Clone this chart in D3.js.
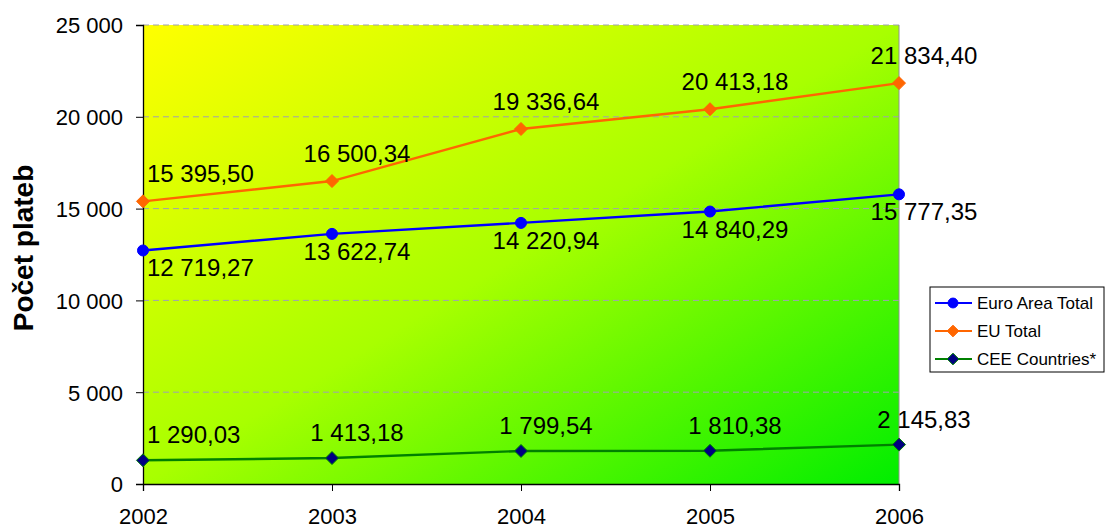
<!DOCTYPE html>
<html>
<head>
<meta charset="utf-8">
<script src="https://cdn.jsdelivr.net/npm/d3@7"></script>
<style>
  body { margin: 0; background: #fff; }
  text { font-family: "Liberation Sans", Arial, sans-serif; fill: #000; }
</style>
</head>
<body>
<svg id="chart" width="1106" height="529"></svg>
<script>
var years = ['2002', '2003', '2004', '2005', '2006'];
var euroArea = [12719.27, 13622.74, 14220.94, 14840.29, 15777.35];
var euTotal = [15395.50, 16500.34, 19336.64, 20413.18, 21834.40];
var ceeCountries = [1290.03, 1413.18, 1799.54, 1810.38, 2145.83];
var yTicks = [0, 5000, 10000, 15000, 20000, 25000];

var series = [
    { name: 'Euro Area Total', values: euroArea, line: '#0000ff', fill: '#0000ff', stroke: '#0000ff', marker: 'circle', labelDy: 26 },
    { name: 'EU Total', values: euTotal, line: '#ff6600', fill: '#ff6600', stroke: '#ff6600', marker: 'diamond', labelDy: -19 },
    { name: 'CEE Countries*', values: ceeCountries, line: '#008000', fill: '#000080', stroke: '#008000', marker: 'diamond', labelDy: -17 }
];

var svg = d3.select('#chart');
var plot = { left: 143, right: 899, top: 25, bottom: 484 };

var x = d3.scalePoint().domain(years).range([plot.left, plot.right]);
var y = d3.scaleLinear().domain([0, 25000]).range([plot.bottom, plot.top]);

function fmt(v, dec) {
    var s = v.toFixed(dec).split('.');
    var intPart = s[0].replace(/\B(?=(\d{3})+(?!\d))/g, ' ');
    return dec ? intPart + ',' + s[1] : intPart;
}

// background gradient
var defs = svg.append('defs');
var grad = defs.append('linearGradient')
    .attr('id', 'bg')
    .attr('x1', '0%').attr('y1', '0%')
    .attr('x2', '100%').attr('y2', '100%');
grad.append('stop').attr('offset', '0%').attr('stop-color', '#ffff00');
grad.append('stop').attr('offset', '50%').attr('stop-color', '#a8ff00');
grad.append('stop').attr('offset', '100%').attr('stop-color', '#00ee00');

svg.append('rect')
    .attr('x', plot.left).attr('y', plot.top)
    .attr('width', plot.right - plot.left)
    .attr('height', plot.bottom - plot.top)
    .attr('fill', 'url(#bg)');

// grid lines
svg.append('g').selectAll('line')
    .data(yTicks.filter(function (d) { return d > 0; }))
    .enter().append('line')
    .attr('x1', plot.left).attr('x2', plot.right)
    .attr('y1', function (d) { return y(d); })
    .attr('y2', function (d) { return y(d); })
    .attr('stroke', '#a0a0b0')
    .attr('stroke-width', 1)
    .attr('stroke-dasharray', '6,4');

// right border
svg.append('line')
    .attr('x1', plot.right).attr('x2', plot.right)
    .attr('y1', plot.top).attr('y2', plot.bottom)
    .attr('stroke', '#909090');

// axes
var yAxis = svg.append('g')
    .attr('transform', 'translate(' + plot.left + ',0)')
    .call(d3.axisLeft(y).tickValues(yTicks).tickSize(7).tickPadding(13)
        .tickFormat(function (d) { return fmt(d, 0); }));
var xAxis = svg.append('g')
    .attr('transform', 'translate(0,' + plot.bottom + ')')
    .call(d3.axisBottom(x).tickSize(7).tickPadding(17));

[yAxis, xAxis].forEach(function (g) {
    g.select('.domain').attr('stroke', '#000').attr('stroke-width', 1.3);
    g.selectAll('.tick line').attr('stroke', '#000');
    g.selectAll('.tick text')
        .style('font-family', '"Liberation Sans", Arial, sans-serif')
        .style('font-size', '22px')
        .attr('fill', '#000');
});
yAxis.selectAll('.tick text').attr('dy', '0.36em');

// y axis title
svg.append('text')
    .attr('transform', 'translate(33,248) rotate(-90)')
    .attr('text-anchor', 'middle')
    .style('font-size', '28px')
    .style('font-weight', 'bold')
    .text('Počet plateb');

function drawMarker(g, s, cx, cy, scale) {
    scale = scale || 1;
    if (s.marker === 'circle') {
        g.append('circle')
            .attr('cx', cx).attr('cy', cy).attr('r', 5.5 * scale)
            .attr('fill', s.fill).attr('stroke', s.stroke);
    } else {
        var r = 6.5 * scale;
        g.append('path')
            .attr('d', 'M' + cx + ',' + (cy - r) + 'L' + (cx + r) + ',' + cy +
                'L' + cx + ',' + (cy + r) + 'L' + (cx - r) + ',' + cy + 'Z')
            .attr('fill', s.fill).attr('stroke', s.stroke).attr('stroke-width', 1);
    }
}

var line = d3.line()
    .x(function (d, i) { return x(years[i]); })
    .y(function (d) { return y(d); });

series.forEach(function (s) {
    var g = svg.append('g');
    g.append('path')
        .datum(s.values)
        .attr('d', line)
        .attr('fill', 'none')
        .attr('stroke', s.line)
        .attr('stroke-width', 2.4);
    s.values.forEach(function (v, i) {
        drawMarker(g, s, x(years[i]), y(v));
    });
    g.selectAll('text.lbl')
        .data(s.values)
        .enter().append('text')
        .attr('class', 'lbl')
        .attr('x', function (d, i) {
            return i === 0 ? plot.left + 4 : x(years[i]) + 25;
        })
        .attr('y', function (d) { return y(d) + s.labelDy; })
        .attr('text-anchor', function (d, i) { return i === 0 ? 'start' : 'middle'; })
        .style('font-size', '24px')
        .text(function (d) { return fmt(d, 2); });
});

// legend
var legend = svg.append('g').attr('transform', 'translate(930,287)');
legend.append('rect')
    .attr('width', 174).attr('height', 85)
    .attr('fill', '#fff').attr('stroke', '#000');
series.forEach(function (s, i) {
    var ly = 16 + i * 28;
    legend.append('line')
        .attr('x1', 5).attr('x2', 42).attr('y1', ly).attr('y2', ly)
        .attr('stroke', s.line).attr('stroke-width', 2.2);
    drawMarker(legend, s, 23, ly, 0.9);
    legend.append('text')
        .attr('x', 47).attr('y', ly).attr('dy', '0.36em')
        .style('font-size', '17px')
        .text(s.name);
});
</script>
</body>
</html>
